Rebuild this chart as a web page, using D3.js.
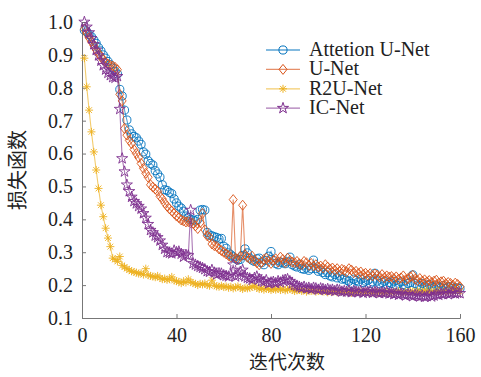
<!DOCTYPE html>
<html>
<head>
<meta charset="utf-8">
<script src="https://cdn.jsdelivr.net/npm/d3@7"></script>
<style>
  body { margin: 0; background: #fff; }
</style>
</head>
<body>
<div id="chart"></div>
<script>
// series names
const names = ['Attetion U-Net', 'U-Net', 'R2U-Net', 'IC-Net'];

// loss per epoch (1..160)
const attUnet = [
  0.975, 0.970, 0.962, 0.955, 0.945, 0.935, 0.922, 0.912, 0.900, 0.890,
  0.880, 0.870, 0.860, 0.850, 0.842, 0.795, 0.775, 0.732, 0.702, 0.672,
  0.660, 0.652, 0.648, 0.638, 0.628, 0.605, 0.598, 0.578, 0.570, 0.565,
  0.548, 0.538, 0.528, 0.505, 0.490, 0.488, 0.482, 0.478, 0.462, 0.450,
  0.440, 0.434, 0.425, 0.410, 0.405, 0.400, 0.398, 0.395, 0.400, 0.428,
  0.430, 0.428, 0.360, 0.352, 0.350, 0.347, 0.345, 0.340, 0.342, 0.318,
  0.312, 0.298, 0.292, 0.286, 0.280, 0.276, 0.278, 0.290, 0.310, 0.298,
  0.282, 0.276, 0.272, 0.280, 0.282, 0.268, 0.262, 0.275, 0.288, 0.302,
  0.275, 0.266, 0.262, 0.270, 0.268, 0.265, 0.271, 0.285, 0.262, 0.258,
  0.255, 0.262, 0.250, 0.248, 0.252, 0.245, 0.250, 0.276, 0.250, 0.242,
  0.246, 0.238, 0.232, 0.238, 0.228, 0.225, 0.232, 0.222, 0.228, 0.218,
  0.220, 0.215, 0.212, 0.205, 0.218, 0.214, 0.210, 0.218, 0.208, 0.212,
  0.215, 0.205, 0.210, 0.236, 0.212, 0.204, 0.208, 0.212, 0.202, 0.208,
  0.205, 0.212, 0.200, 0.206, 0.210, 0.202, 0.198, 0.205, 0.208, 0.231,
  0.205, 0.200, 0.198, 0.205, 0.195, 0.200, 0.202, 0.196, 0.192, 0.198,
  0.195, 0.192, 0.198, 0.190, 0.194, 0.196, 0.190, 0.188, 0.192, 0.190
];
const unet = [
  0.978, 0.965, 0.952, 0.940, 0.928, 0.915, 0.905, 0.895, 0.885, 0.878,
  0.872, 0.868, 0.866, 0.862, 0.855, 0.780, 0.760, 0.676, 0.656, 0.640,
  0.630, 0.612, 0.600, 0.588, 0.570, 0.555, 0.540, 0.528, 0.505, 0.498,
  0.492, 0.485, 0.470, 0.462, 0.450, 0.440, 0.432, 0.425, 0.418, 0.410,
  0.405, 0.398, 0.395, 0.392, 0.393, 0.390, 0.388, 0.380, 0.372, 0.390,
  0.418, 0.368, 0.350, 0.345, 0.325, 0.320, 0.318, 0.310, 0.305, 0.300,
  0.295, 0.290, 0.285, 0.460, 0.282, 0.278, 0.288, 0.443, 0.292, 0.285,
  0.280, 0.288, 0.275, 0.268, 0.262, 0.270, 0.278, 0.282, 0.272, 0.266,
  0.275, 0.280, 0.270, 0.285, 0.278, 0.268, 0.282, 0.275, 0.270, 0.268,
  0.272, 0.265, 0.262, 0.272, 0.268, 0.260, 0.266, 0.258, 0.262, 0.255,
  0.258, 0.252, 0.262, 0.255, 0.248, 0.252, 0.245, 0.250, 0.242, 0.248,
  0.245, 0.240, 0.250, 0.246, 0.238, 0.242, 0.235, 0.240, 0.232, 0.236,
  0.230, 0.235, 0.228, 0.234, 0.230, 0.225, 0.232, 0.222, 0.228, 0.224,
  0.226, 0.220, 0.225, 0.218, 0.222, 0.228, 0.216, 0.220, 0.225, 0.230,
  0.218, 0.214, 0.220, 0.212, 0.216, 0.210, 0.214, 0.208, 0.212, 0.215,
  0.206, 0.210, 0.212, 0.204, 0.208, 0.205, 0.200, 0.206, 0.202, 0.195
];
const r2unet = [
  0.890, 0.803, 0.732, 0.666, 0.605, 0.550, 0.494, 0.443, 0.408, 0.373,
  0.343, 0.317, 0.282, 0.278, 0.272, 0.287, 0.260, 0.255, 0.250, 0.246,
  0.242, 0.240, 0.238, 0.235, 0.236, 0.232, 0.250, 0.230, 0.228, 0.226,
  0.224, 0.228, 0.222, 0.218, 0.220, 0.216, 0.218, 0.225, 0.214, 0.212,
  0.210, 0.206, 0.212, 0.208, 0.218, 0.210, 0.206, 0.204, 0.200, 0.204,
  0.202, 0.205, 0.200, 0.198, 0.215, 0.200, 0.196, 0.195, 0.198, 0.194,
  0.196, 0.192, 0.195, 0.190, 0.193, 0.196, 0.192, 0.188, 0.192, 0.190,
  0.192, 0.195, 0.198, 0.192, 0.188, 0.190, 0.186, 0.190, 0.188, 0.185,
  0.188, 0.186, 0.190, 0.185, 0.188, 0.184, 0.186, 0.190, 0.185, 0.182,
  0.184, 0.186, 0.182, 0.185, 0.180, 0.184, 0.182, 0.185, 0.180, 0.182,
  0.184, 0.180, 0.182, 0.178, 0.182, 0.180, 0.184, 0.178, 0.180, 0.182,
  0.178, 0.182, 0.180, 0.176, 0.180, 0.178, 0.182, 0.176, 0.180, 0.178,
  0.180, 0.176, 0.178, 0.182, 0.176, 0.180, 0.178, 0.176, 0.180, 0.178,
  0.176, 0.180, 0.178, 0.182, 0.178, 0.176, 0.180, 0.178, 0.182, 0.180,
  0.178, 0.182, 0.180, 0.178, 0.184, 0.180, 0.182, 0.178, 0.180, 0.182,
  0.180, 0.178, 0.182, 0.180, 0.178, 0.182, 0.180, 0.184, 0.182, 0.180
];
const icnet = [
  1.000, 0.985, 0.968, 0.950, 0.932, 0.915, 0.898, 0.882, 0.868, 0.855,
  0.845, 0.838, 0.832, 0.830, 0.835, 0.735, 0.585, 0.545, 0.505, 0.485,
  0.468, 0.455, 0.448, 0.440, 0.432, 0.418, 0.404, 0.385, 0.367, 0.360,
  0.350, 0.345, 0.335, 0.322, 0.310, 0.300, 0.298, 0.296, 0.305, 0.300,
  0.302, 0.295, 0.286, 0.292, 0.290, 0.428, 0.266, 0.262, 0.258, 0.255,
  0.252, 0.248, 0.242, 0.240, 0.246, 0.238, 0.232, 0.236, 0.235, 0.230,
  0.228, 0.226, 0.232, 0.262, 0.226, 0.230, 0.240, 0.246, 0.226, 0.222,
  0.220, 0.216, 0.222, 0.226, 0.218, 0.212, 0.210, 0.215, 0.205, 0.208,
  0.210, 0.206, 0.212, 0.208, 0.214, 0.216, 0.218, 0.212, 0.205, 0.200,
  0.198, 0.195, 0.192, 0.195, 0.190, 0.192, 0.188, 0.192, 0.190, 0.186,
  0.190, 0.188, 0.185, 0.188, 0.184, 0.186, 0.182, 0.186, 0.184, 0.180,
  0.182, 0.180, 0.184, 0.178, 0.182, 0.180, 0.178, 0.182, 0.176, 0.180,
  0.178, 0.182, 0.176, 0.180, 0.178, 0.175, 0.178, 0.176, 0.180, 0.174,
  0.176, 0.172, 0.175, 0.170, 0.174, 0.172, 0.168, 0.172, 0.170, 0.166,
  0.170, 0.168, 0.165, 0.168, 0.164, 0.166, 0.170, 0.165, 0.168, 0.172,
  0.170, 0.174, 0.172, 0.176, 0.172, 0.175, 0.178, 0.174, 0.176, 0.175
];

const xTicks = [0, 40, 80, 120, 160];
const yTicks = [0.1, 0.2, 0.3, 0.4, 0.5, 0.6, 0.7, 0.8, 0.9, 1.0];

const colors = ['#0072BD', '#D95319', '#EDB120', '#7E2F8E'];
const seriesData = [attUnet, unet, r2unet, icnet];

const serifFont = "'Times New Roman', 'DejaVu Serif', serif";
const cjkFont = "'Noto Sans CJK SC', sans-serif";

// marker shapes
const circle = d3.symbol().type(d3.symbolCircle).size(52)();
const diamond = 'M0,-5L4,0L0,5L-4,0Z';
const asterisk = 'M-4,0L4,0M0,-4L0,4M-2.9,-2.9L2.9,2.9M-2.9,2.9L2.9,-2.9';
const star = d3.symbol().type(d3.symbolStar).size(38)();
const markers = [circle, diamond, asterisk, star];

const width = 481, height = 377;
const margin = { top: 22, right: 21, bottom: 59, left: 82 };
const w = width - margin.left - margin.right;
const h = height - margin.top - margin.bottom;

const svg = d3.select('#chart').append('svg')
  .attr('width', width)
  .attr('height', height);

const g = svg.append('g')
  .attr('transform', `translate(${margin.left},${margin.top})`);

const x = d3.scaleLinear().domain([0, 160]).range([0, w]);
const y = d3.scaleLinear().domain([0.1, 1.0]).range([h, 0]);

// axes, ticks inside
const xAxis = g.append('g')
  .attr('transform', `translate(0,${h})`)
  .call(d3.axisBottom(x).tickValues(xTicks).tickSize(-4).tickPadding(10).tickFormat(d3.format('d')));
const yAxis = g.append('g')
  .call(d3.axisLeft(y).tickValues(yTicks).tickSize(-4).tickPadding(9).tickFormat(d3.format('.1f')));

[xAxis, yAxis].forEach(a => {
  a.attr('font-family', serifFont).attr('font-size', 20);
  a.select('.domain').attr('stroke', '#777').attr('stroke-width', 1);
  a.selectAll('.tick line').attr('stroke', '#777');
  a.selectAll('.tick text').attr('fill', '#222');
});

const line = d3.line()
  .x((d, i) => x(i + 1))
  .y(d => y(d));

seriesData.forEach((data, k) => {
  const s = g.append('g');
  s.append('path')
    .datum(data)
    .attr('fill', 'none')
    .attr('stroke', colors[k])
    .attr('stroke-opacity', 0.65)
    .attr('stroke-width', 1.1)
    .attr('d', line);
  s.selectAll('path.m')
    .data(data)
    .enter()
    .append('path')
    .attr('class', 'm')
    .attr('d', markers[k])
    .attr('transform', (d, i) => `translate(${x(i + 1)},${y(d)})`)
    .attr('fill', 'none')
    .attr('stroke', colors[k])
    .attr('stroke-width', 0.9);
});

// legend
const legend = svg.append('g').attr('transform', 'translate(266,50)');
names.forEach((n, k) => {
  const row = legend.append('g').attr('transform', `translate(0,${k * 19.4})`);
  row.append('line')
    .attr('x1', 0).attr('x2', 34)
    .attr('stroke', colors[k])
    .attr('stroke-opacity', 0.65)
    .attr('stroke-width', 1.3);
  row.append('path')
    .attr('d', markers[k])
    .attr('transform', 'translate(17,0)')
    .attr('fill', 'none')
    .attr('stroke', colors[k]);
  row.append('text')
    .attr('x', 43)
    .attr('y', 6)
    .attr('font-family', serifFont)
    .attr('font-size', 20)
    .attr('fill', '#222')
    .text(n);
});

// axis titles
svg.append('text')
  .attr('x', 287)
  .attr('y', 369)
  .attr('text-anchor', 'middle')
  .attr('font-family', cjkFont)
  .attr('font-size', 19)
  .attr('fill', '#222')
  .text('迭代次数');

svg.append('text')
  .attr('transform', 'translate(25,170) rotate(-90)')
  .attr('text-anchor', 'middle')
  .attr('font-family', cjkFont)
  .attr('font-size', 20)
  .attr('fill', '#222')
  .text('损失函数');
</script>
</body>
</html>
